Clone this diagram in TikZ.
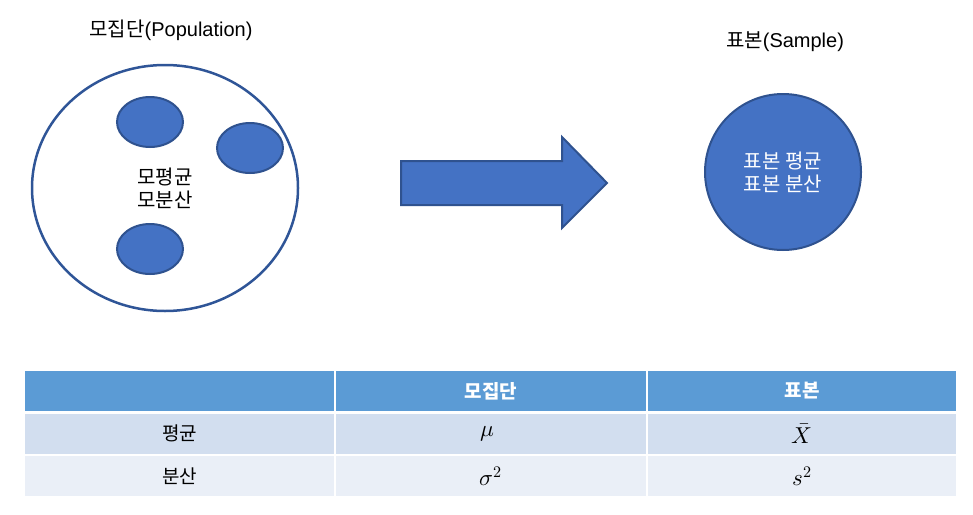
\documentclass[tikz,border=0pt]{standalone}
\usepackage{fontspec}
\usepackage{unicode-math}
\setmainfont{Liberation Sans}
\newfontfamily\kr{Noto Sans CJK KR}
\usetikzlibrary{positioning,shapes.geometric}
\definecolor{PopBlue}{HTML}{4472C4}
\definecolor{PopEdge}{HTML}{2F528F}
\definecolor{PopRing}{HTML}{2F5597}
\definecolor{TabHead}{HTML}{5B9BD5}
\definecolor{TabRowA}{HTML}{D2DEEF}
\definecolor{TabRowB}{HTML}{EAEFF7}

\begin{document}
\begin{tikzpicture}[x=1pt,y=-1pt,
    title/.style={
      font=\fontsize{20}{24}\selectfont,
      inner sep=0pt
    },
    blob/.style={
      ellipse,
      minimum width=66pt,
      minimum height=50pt,
      fill=PopBlue,
      draw=PopEdge,
      line width=2pt
    },
    cell/.style={
      rectangle,
      draw=white,
      line width=1.5pt,
      inner sep=0pt,
      font=\fontsize{23}{27}\selectfont
    },
    bigarrow/.style={
      fill=PopBlue,
      draw=PopEdge,
      line width=2pt,
      line join=miter
    }]

    \useasboundingbox (0,0) rectangle (973,514);

    % Population: big ring with samples inside
    \node[title] (poptitle) at (171,30) {{\kr 모집단}(Population)};
    \node[ellipse,draw=PopRing,line width=2.5pt,minimum width=266pt,
          minimum height=246pt,align=center,
          font=\kr\fontsize{20}{23}\selectfont] (pop) at (165,188)
          {모평균\\모분산};
    \node[blob] (grp1) at (150,122) {};
    \node[blob] (grp2) at (250,148) {};
    \node[blob] (grp3) at (150,249) {};

    % Block arrow from population to sample
    \draw[bigarrow] (401,161) -- (562,161) -- (562,137) -- (607,183)
      -- (562,228) -- (562,205) -- (401,205) -- cycle;

    % Sample: filled circle
    \node[title] (smptitle) at (785,42) {{\kr 표본}(Sample)};
    \node[circle,fill=PopBlue,draw=PopEdge,line width=2pt,
          minimum size=156pt,align=center,text=white,
          font=\kr\fontsize{20}{23}\selectfont] (smp) at (783,172)
          {표본 평균\\표본 분산};

    % Table: header row
    \node[cell,fill=TabHead,minimum width=311pt,minimum height=42pt] (h1) at (179.5,391) {};
    \node[cell,fill=TabHead,minimum width=312pt,minimum height=42pt,text=white,
          font=\kr\bfseries\fontsize{19}{23}\selectfont] (h2) at (491,391) {모집단};
    \node[cell,fill=TabHead,minimum width=310pt,minimum height=42pt,text=white,
          font=\kr\bfseries\fontsize{19}{23}\selectfont] (h3) at (802,391) {표본};

    % Table: mean row
    \node[cell,fill=TabRowA,minimum width=311pt,minimum height=43pt,
          font=\kr\fontsize{19}{23}\selectfont] (m1) at (179.5,433.5) {평균};
    \node[cell,fill=TabRowA,minimum width=312pt,minimum height=43pt] (m2) at (491,433.5) {$\mu$\kern8pt};
    \node[cell,fill=TabRowA,minimum width=310pt,minimum height=43pt] (m3) at (802,433.5) {$\bar{X}$};

    % Table: variance row
    \node[cell,fill=TabRowB,minimum width=311pt,minimum height=42pt,
          font=\kr\fontsize{19}{23}\selectfont] (v1) at (179.5,476) {분산};
    \node[cell,fill=TabRowB,minimum width=312pt,minimum height=42pt] (v2) at (491,476) {$\sigma^2$};
    \node[cell,fill=TabRowB,minimum width=310pt,minimum height=42pt] (v3) at (802,476) {$s^2$};

    \draw[white,line width=3pt] (h1.south west) -- (h3.south east);
\end{tikzpicture}
\end{document}
